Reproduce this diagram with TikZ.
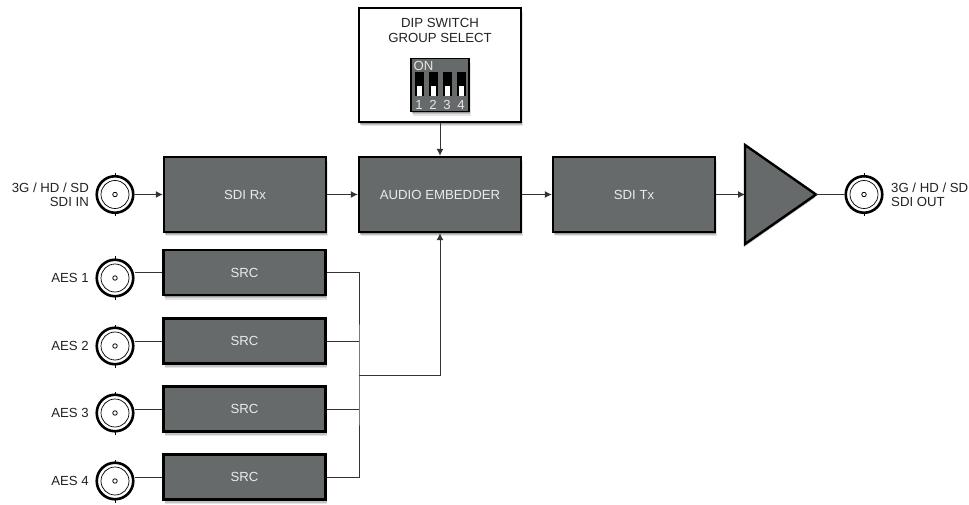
\documentclass[tikz,border=0pt]{standalone}
\usepackage{fontspec}
\setmainfont{Liberation Sans}
\usetikzlibrary{shadows,arrows.meta,calc}
\definecolor{blockgrey}{HTML}{666A6A}
\definecolor{txt}{HTML}{222222}
\tikzset{
  softshadow/.style={
    drop shadow={shadow xshift=1.5pt,shadow yshift=-4.5pt,opacity=.1,fill=black},
    drop shadow={shadow xshift=1pt,shadow yshift=-3pt,opacity=.15,fill=black},
    drop shadow={shadow xshift=.5pt,shadow yshift=-1.8pt,opacity=.2,fill=black}},
  blockbox/.style={draw=black,line width=2.4pt,fill=blockgrey,minimum width=162pt,minimum height=75pt,inner sep=0pt,text=white!92!black,font=\fontsize{13.2}{15}\selectfont,softshadow},
  srcbox/.style={blockbox,minimum height=45pt},
  bnc/.style={circle,draw=black,line width=2.6pt,fill=white,minimum size=36.5pt,inner sep=0pt},
  ring/.style={circle,draw=black,line width=.7pt,minimum size=28pt,inner sep=0pt},
  pin/.style={circle,draw=black,line width=.8pt,fill=white,minimum size=4.5pt,inner sep=0pt},
  lab/.style={text=txt,font=\fontsize{13.2}{14.2}\selectfont,inner sep=0pt},
  wire/.style={draw=black!80,line width=1pt},
  arrowwire/.style={wire,-{Latex[length=7pt,width=7pt]}},
  tick/.style={draw=black,line width=.7pt},
  slider/.style={draw=black,fill=black,line width=0pt,minimum width=8pt,minimum height=23pt,inner sep=0pt},
  knob/.style={fill=white,minimum width=5pt,minimum height=10.5pt,inner sep=0pt},
  diplab/.style={text=white!90!black,font=\fontsize{13.2}{14}\selectfont,inner sep=0pt}
}
\newcommand{\bncat}[2]{%
  \draw[tick] (#2) ++(0,-21.5) -- ++(0,43);
  \node[bnc] (#1) at (#2) {};
  \node[ring] at (#1.center) {};
  \node[pin] at (#1.center) {};
}
\begin{document}
\begin{tikzpicture}[x=1pt,y=1pt]
\useasboundingbox (0,0) rectangle (969,504);
% blocks
\node[draw=black,line width=2.4pt,fill=white,minimum width=162pt,minimum height=114pt,inner sep=0pt,softshadow] (dipbox) at (440,439) {};
\node[blockbox] (rx) at (245,309.5) {SDI Rx};
\node[blockbox] (emb) at (440,309.5) {AUDIO EMBEDDER};
\node[blockbox] (tx) at (634,309.5) {SDI Tx};
\node[srcbox] (s1) at (244.5,231.5) {SRC};
\node[srcbox] (s2) at (244.5,163) {SRC};
\node[srcbox] (s3) at (244.5,95) {SRC};
\node[srcbox] (s4) at (244.5,27) {SRC};
% amplifier
\coordinate (ampin) at (745,309.5);
\coordinate (ampout) at (816,309.5);
\draw[black,line width=2.4pt,line join=miter,fill=blockgrey,drop shadow={shadow xshift=-1pt,shadow yshift=-3pt,opacity=.3,fill=black}] (745,359) -- (745,260) -- (816,309.5) -- cycle;
% connectors
\bncat{inbnc}{115,309.5}
\bncat{outbnc}{864,309.5}
\bncat{a1}{115,226}
\bncat{a2}{115,158}
\bncat{a3}{115,91}
\bncat{a4}{115,23}
% DIP switch
\node[draw=black,line width=1.6pt,fill=blockgrey,minimum width=58pt,minimum height=53pt,inner sep=0pt,softshadow] (dip) at (440,419) {};
\foreach \n/\x in {1/419,2/433,3/447,4/461}{
  \node[slider] (sl\n) at (\x,419.5) {};
  \node[knob] at (\x,413) {};
  \node[diplab] at (\x,399.5) {\n};
}
\node[diplab,anchor=west] at (413.5,438) {ON};
% labels
\node[lab,align=center,font=\fontsize{13.2}{15}\selectfont] at (440,473.5) {DIP SWITCH\\GROUP SELECT};
\node[lab,align=right,anchor=east] at (89,309) {3G / HD / SD\\SDI IN};
\node[lab,align=left,anchor=west] at (891,309) {3G / HD / SD\\SDI OUT};
\node[lab,anchor=east] (l1) at (89,226.5) {AES 1};
\node[lab,anchor=east] (l2) at (89,158.5) {AES 2};
\node[lab,anchor=east] (l3) at (89,91.5) {AES 3};
\node[lab,anchor=east] (l4) at (89,23.5) {AES 4};
% wires
\draw[arrowwire] (dipbox.south) -- (emb.north);
\draw[arrowwire] (inbnc.east) -- (rx.west);
\draw[arrowwire] (rx.east) -- (emb.west);
\draw[arrowwire] (emb.east) -- (tx.west);
\draw[arrowwire] (tx.east) -- (ampin);
\draw[wire] (ampout) -- (outbnc.west);
\coordinate (bus) at (359,129);
\draw[wire] (a1.east |- s1.west) -- (s1.west);
\draw[wire] (a2.east |- s2.west) -- (s2.west);
\draw[wire] (a3.east |- s3.west) -- (s3.west);
\draw[wire] (a4.east |- s4.west) -- (s4.west);
\draw[wire] (s1.east) -| (bus) |- (s4.east);
\draw[wire] (s2.east) -- (s2.east -| bus);
\draw[wire] (s3.east) -- (s3.east -| bus);
\draw[arrowwire] (bus) -| (emb.south);
\end{tikzpicture}
\end{document}
